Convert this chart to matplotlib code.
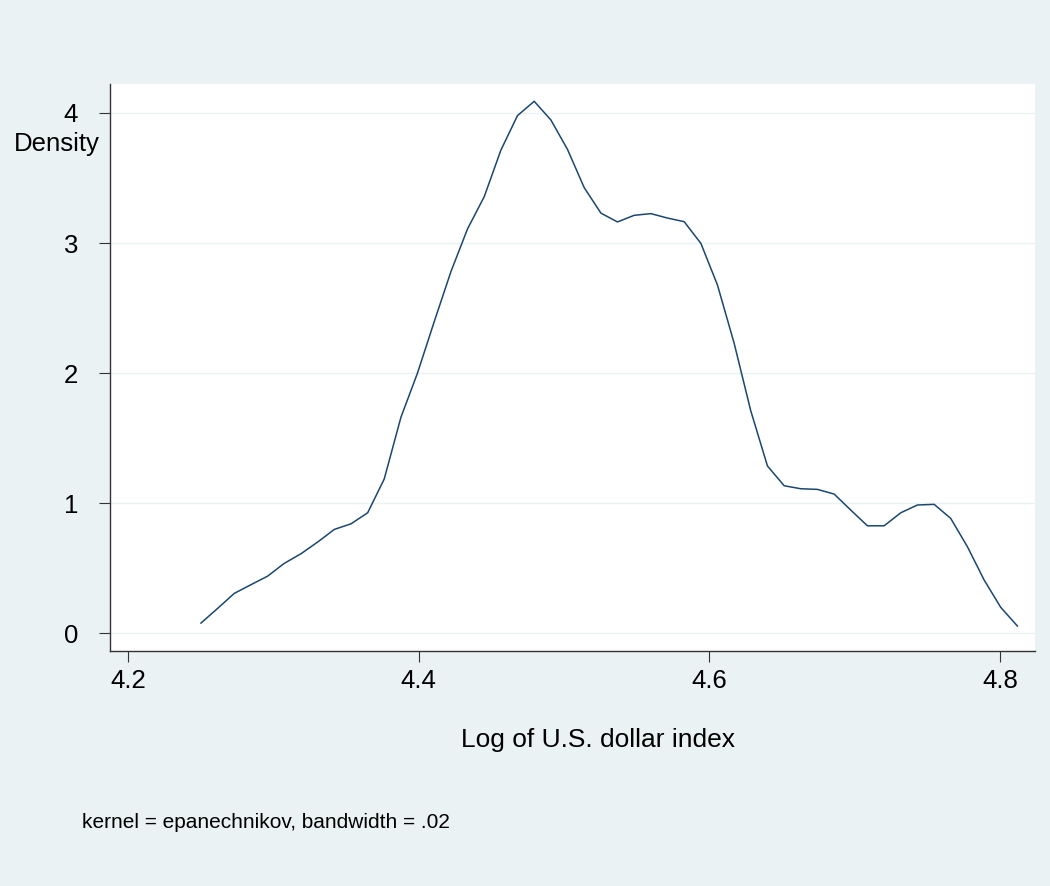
import matplotlib
matplotlib.use("Agg")
import matplotlib.pyplot as plt

# kernel density estimate of log dollar index (50 evaluation points)
log_index = [4.2502, 4.2617, 4.2731, 4.2846, 4.2961, 4.3075, 4.3190, 4.3305, 4.3419, 4.3534,
             4.3649, 4.3763, 4.3878, 4.3992, 4.4107, 4.4222, 4.4336, 4.4451, 4.4566, 4.4680,
             4.4795, 4.4910, 4.5024, 4.5139, 4.5254, 4.5368, 4.5483, 4.5598, 4.5712, 4.5827,
             4.5942, 4.6056, 4.6171, 4.6285, 4.6400, 4.6515, 4.6629, 4.6744, 4.6859, 4.6973,
             4.7088, 4.7203, 4.7317, 4.7432, 4.7547, 4.7661, 4.7776, 4.7891, 4.8005, 4.8120]
density = [0.077, 0.19, 0.305, 0.372, 0.438, 0.536, 0.61, 0.70, 0.797, 0.84,
           0.925, 1.185, 1.66, 2.0, 2.395, 2.78, 3.108, 3.356, 3.715, 3.98,
           4.09, 3.946, 3.72, 3.426, 3.23, 3.162, 3.213, 3.226, 3.192, 3.164,
           2.997, 2.677, 2.228, 1.71, 1.285, 1.133, 1.11, 1.105, 1.069, 0.946,
           0.825, 0.825, 0.925, 0.985, 0.99, 0.882, 0.664, 0.408, 0.198, 0.054]

xticks = [4.2, 4.4, 4.6, 4.8]
xtick_labels = ["4.2", "4.4", "4.6", "4.8"]
yticks = [0, 1, 2, 3, 4]

BG = "#EAF2F3"
LINE = "#1A476F"

plt.rcParams["font.family"] = ["Liberation Sans", "DejaVu Sans"]

fig = plt.figure(figsize=(10.5, 8.86), dpi=100, facecolor=BG)
ax = fig.add_axes([110 / 1050, 1 - 651 / 886, 925 / 1050, 567 / 886])
ax.set_facecolor("white")

ax.plot(log_index, density, color=LINE, lw=1.1, zorder=3)

ax.set_xlim(4.1876, 4.8241)
ax.set_ylim(-0.138, 4.223)

ax.set_yticks(yticks)
ax.set_yticklabels([str(v) for v in yticks])
ax.set_xticks(xticks)
ax.set_xticklabels(xtick_labels)
ax.grid(axis="y", color=BG, lw=1.0, zorder=1)
ax.grid(axis="x", visible=False)

for side in ["top", "right"]:
    ax.spines[side].set_visible(False)
for side in ["left", "bottom"]:
    ax.spines[side].set_color("#333333")
    ax.spines[side].set_linewidth(1.0)

ax.tick_params(axis="both", direction="out", length=8, width=0.8, color="#333333",
               labelsize=18.5, labelcolor="black")
ax.tick_params(axis="y", pad=15)
ax.tick_params(axis="x", pad=5)

fig.text(100 / 1050, 1 - 144 / 886, "Density", ha="right", va="center", fontsize=18.5)
fig.text(598 / 1050, 1 - 740 / 886, "Log of U.S. dollar index", ha="center", va="center",
         fontsize=19)
fig.text(82 / 1050, 1 - 823 / 886, "kernel = epanechnikov, bandwidth = .02", ha="left",
         va="center", fontsize=15)

fig.savefig("out.png", dpi=100, facecolor=BG)
